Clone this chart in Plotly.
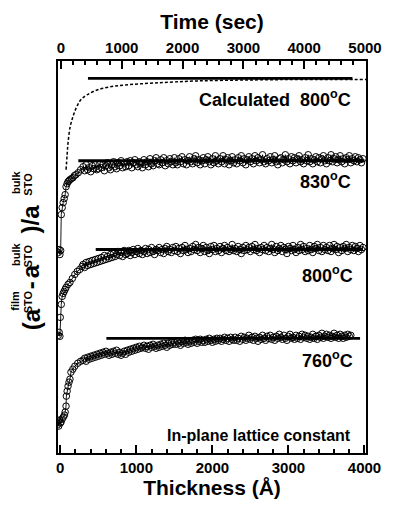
import plotly.graph_objects as go

# ---------------- data ----------------
# thickness (Angstrom) grid of the slowly varying part of the growth curves
t_plateau = [300, 320, 340, 360, 380, 400, 420, 440, 460, 480,
             500, 520, 540, 560, 580, 600, 620, 640, 660, 680,
             700, 720, 740, 760, 780, 800, 820, 840, 860, 880,
             900, 920, 940, 960, 980, 1000, 1020, 1040, 1060, 1080,
             1100, 1120, 1140, 1160, 1180, 1200, 1220, 1240, 1260, 1280,
             1300, 1320, 1340, 1360, 1380, 1400, 1420, 1440, 1460, 1480,
             1500, 1520, 1540, 1560, 1580, 1600, 1620, 1640, 1660, 1680,
             1700, 1720, 1740, 1760, 1780, 1800, 1820, 1840, 1860, 1880,
             1900, 1920, 1940, 1960, 1980, 2000, 2020, 2040, 2060, 2080,
             2100, 2120, 2140, 2160, 2180, 2200, 2220, 2240, 2260, 2280,
             2300, 2320, 2340, 2360, 2380, 2400, 2420, 2440, 2460, 2480,
             2500, 2520, 2540, 2560, 2580, 2600, 2620, 2640, 2660, 2680,
             2700, 2720, 2740, 2760, 2780, 2800, 2820, 2840, 2860, 2880,
             2900, 2920, 2940, 2960, 2980, 3000, 3020, 3040, 3060, 3080,
             3100, 3120, 3140, 3160, 3180, 3200, 3220, 3240, 3260, 3280,
             3300, 3320, 3340, 3360, 3380, 3400, 3420, 3440, 3460, 3480,
             3500, 3520, 3540, 3560, 3580, 3600, 3620, 3640, 3660, 3680,
             3700, 3720, 3740, 3760, 3780, 3800, 3820, 3840, 3860, 3880,
             3900, 3920, 3940, 3960, 3980]

# 830 C  (vertically offset, arbitrary units)
t830_early = [-25, -15, -5, 5, 13, 25, 38, 51, 64, 76, 90, 102, 115, 127, 146, 166, 185, 204, 236, 268]
v830_early = [20.1, 20.4, 19.9, 20.3, 23.9, 24.6, 25.1, 25.5, 25.9, 26.7, 27.0, 27.2, 27.3, 27.4,
              27.5, 27.6, 27.8, 27.9, 28.1, 28.4]
v830_plateau = [28.7, 28.3, 28.9, 28.4, 28.6, 28.2, 28.8, 28.5, 28.9, 28.4,
                28.5, 29.0, 28.6, 28.9, 28.3, 28.8, 29.1, 28.6, 28.4, 28.9,
                29.2, 28.7, 28.5, 29.1, 28.8, 29.3, 28.6, 29.0, 28.7, 29.2,
                28.8, 29.3, 28.6, 29.1, 29.4, 28.9, 28.7, 29.2, 29.0, 28.6,
                29.4, 28.9, 29.2, 28.7, 29.5, 29.0, 28.8, 29.3, 29.6, 29.0,
                28.9, 29.4, 29.1, 29.6, 28.8, 29.3, 29.0, 29.5, 29.2, 28.9,
                29.6, 29.1, 28.9, 29.5, 29.2, 29.7, 29.0, 29.4, 28.9, 29.3,
                29.7, 29.2, 29.0, 29.5, 29.8, 29.1, 29.4, 28.9, 29.3, 29.6,
                29.0, 29.4, 29.7, 29.2, 28.9, 29.5, 29.1, 29.8, 29.3, 29.0,
                29.5, 29.2, 29.8, 29.0, 29.4, 29.6, 28.9, 29.3, 29.7, 29.1,
                29.4, 29.0, 29.6, 29.3, 29.8, 29.1, 29.5, 28.9, 29.4, 29.7,
                29.2, 29.5, 29.0, 29.8, 29.3, 29.6, 29.1, 29.4, 29.9, 29.2,
                29.0, 29.5, 29.3, 29.7, 29.1, 29.4, 29.8, 29.2, 28.9, 29.5,
                29.6, 29.1, 29.4, 29.9, 29.2, 29.5, 29.0, 29.7, 29.3, 29.6,
                29.1, 29.5, 29.8, 29.2, 29.4, 29.0, 29.6, 29.3, 29.9, 29.2,
                29.5, 29.0, 29.4, 29.7, 29.2, 29.6, 29.1, 29.5, 29.8, 29.3,
                29.0, 29.6, 29.3, 29.9, 29.2, 29.5, 29.7, 29.1, 29.4, 29.8,
                29.2, 29.5, 29.0, 29.6, 29.4, 29.8, 29.1, 29.5, 29.3, 29.7,
                29.2, 29.6, 29.4, 29.1, 29.5]

# 800 C
t800_early = [-25, -15, -5, 0, 13, 25, 38, 51, 64, 76, 102, 127, 159, 191, 223, 255, 287]
v800_early = [11.8, 12.1, 11.7, 13.6, 14.9, 15.7, 16.0, 16.2, 16.4, 16.6, 16.9, 17.1, 17.5, 17.9,
              18.2, 18.4, 18.7]
v800_plateau = [18.9, 18.6, 19.1, 18.8, 19.2, 18.9, 19.3, 19.0, 19.4, 19.1,
                19.5, 19.2, 19.6, 19.3, 19.8, 19.4, 19.7, 19.5, 19.9, 19.6,
                20.0, 19.7, 19.9, 20.2, 19.8, 20.1, 19.7, 20.3, 19.9, 20.0,
                20.3, 19.8, 20.1, 20.4, 19.9, 20.2, 20.5, 20.0, 20.3, 19.9,
                20.2, 20.5, 20.0, 20.4, 20.1, 20.6, 20.2, 19.9, 20.4, 20.3,
                20.6, 20.1, 20.4, 20.0, 20.5, 20.7, 20.2, 20.4, 20.1, 20.6,
                20.3, 20.7, 20.2, 20.5, 20.0, 20.6, 20.3, 20.8, 20.4, 20.1,
                20.5, 20.2, 20.7, 20.4, 20.9, 20.3, 20.6, 20.1, 20.5, 20.8,
                20.2, 20.6, 20.3, 20.0, 20.7, 20.4, 20.8, 20.2, 20.5, 20.3,
                20.7, 20.1, 20.5, 20.8, 20.3, 20.6, 20.2, 20.4, 20.9, 20.3,
                20.5, 20.2, 20.7, 20.4, 20.0, 20.6, 20.3, 20.8, 20.4, 20.6,
                20.2, 20.7, 20.4, 20.9, 20.3, 20.5, 20.1, 20.6, 20.4, 20.8,
                20.3, 20.6, 20.2, 20.5, 20.9, 20.4, 20.1, 20.7, 20.3, 20.5,
                20.8, 20.2, 20.6, 20.4, 20.0, 20.7, 20.5, 20.3, 20.8, 20.4,
                20.1, 20.6, 20.3, 20.9, 20.4, 20.7, 20.2, 20.5, 20.3, 20.8,
                20.4, 20.1, 20.7, 20.5, 20.9, 20.3, 20.6, 20.2, 20.8, 20.4,
                20.6, 20.3, 20.8, 20.2, 20.5, 20.9, 20.4, 20.7, 20.1, 20.6,
                20.3, 20.7, 20.5, 20.9, 20.2, 20.6, 20.4, 20.8, 20.3, 20.7,
                20.5, 20.2, 20.8, 20.4, 20.6]

# 760 C
t760_early = [-40, -30, -20, -10, 0, 10, 25, 40, 55, 64, 76, 80, 90, 102, 115, 127, 140, 165, 191, 230, 268]
v760_early = [2.8, 3.2, 2.7, 3.3, 3.0, 3.1, 3.4, 3.6, 3.8, 4.1, 4.7, 5.7, 6.2, 6.7, 7.1, 7.4, 8.1,
              8.4, 8.7, 9.0, 9.2]
v760_plateau = [9.3, 9.5, 9.2, 9.6, 9.4, 9.7, 9.5, 9.8, 9.6, 9.9,
                9.7, 10.0, 9.8, 10.1, 9.9, 10.2, 10.0, 9.8, 10.1, 9.9,
                10.2, 10.0, 10.3, 9.9, 10.1, 9.8, 10.0, 10.2, 9.9, 10.3,
                10.1, 10.4, 10.2, 10.5, 10.3, 10.6, 10.4, 10.7, 10.5, 10.6,
                10.8, 10.5, 10.7, 10.4, 10.8, 10.6, 10.9, 10.7, 10.5, 10.8,
                10.6, 10.9, 10.7, 11.0, 10.8, 10.6, 11.0, 10.8, 11.1, 10.9,
                11.1, 10.9, 11.2, 11.0, 10.8, 11.2, 11.0, 11.3, 11.1, 10.9,
                11.2, 11.0, 11.3, 11.1, 11.4, 11.0, 11.2, 11.4, 11.1, 11.3,
                11.1, 11.4, 11.2, 11.5, 11.3, 11.1, 11.4, 11.2, 11.5, 11.3,
                11.5, 11.2, 11.4, 11.6, 11.3, 11.5, 11.2, 11.6, 11.4, 11.3,
                11.6, 11.3, 11.5, 11.2, 11.7, 11.4, 11.6, 11.3, 11.5, 11.8,
                11.4, 11.6, 11.3, 11.7, 11.5, 11.2, 11.6, 11.4, 11.8, 11.5,
                11.3, 11.7, 11.5, 11.8, 11.4, 11.6, 11.3, 11.7, 11.5, 11.9,
                11.6, 11.4, 11.8, 11.5, 11.3, 11.7, 11.9, 11.5, 11.6, 11.4,
                11.8, 11.5, 11.7, 11.4, 11.9, 11.6, 11.8, 11.5, 11.7, 11.4,
                11.6, 11.9, 11.5, 11.7, 11.4, 11.8, 11.6, 12.0, 11.5, 11.7,
                11.9, 11.6, 11.8, 11.5, 11.7, 12.0, 11.6, 11.8, 11.5, 11.9,
                11.7, 11.5, 11.8, 11.6, 11.9, 11.7, 11.8]

# calculated curve (800 C)
t_calc = [76, 90, 102, 130, 166, 210, 268, 350, 484, 650, 850, 1248, 1800, 2500, 3200, 4020]
v_calc = [28.4, 29.9, 31.1, 32.7, 33.7, 34.6, 35.4, 35.9, 36.4, 36.7, 36.9, 37.1, 37.3, 37.4, 37.45, 37.45]

# saturation (bulk-like) reference levels: [start thickness, end thickness, level]
sat_calc = [364, 3842, 37.55]
sat_830 = [237, 4000, 29.3]
sat_800 = [466, 3980, 20.4]
sat_760 = [606, 3942, 11.5]

bottom_ticks = [0, 1000, 2000, 3000, 4000]
top_ticks = [0, 1000, 2000, 3000, 4000, 5000]

# ---------------- figure ----------------
FONT = "Liberation Sans, Arial, sans-serif"
W, H = 394, 508
ML, MR, MT, MB = 58, 18, 61, 54
PW, PH = W - ML - MR, H - MT - MB


def px(x):
    return (x - ML) / PW


def py(y):
    return (H - MB - y) / PH


fig = go.Figure()

series = [
    (t830_early + t_plateau, v830_early + v830_plateau),
    (t800_early + t_plateau, v800_early + v800_plateau),
    (t760_early + t_plateau[:len(v760_plateau)], v760_early + v760_plateau),
]
for tx, vy in series:
    fig.add_trace(go.Scatter(
        x=tx, y=vy, mode="lines+markers",
        line=dict(color="black", width=0.9),
        marker=dict(symbol="circle-open", size=6.5, color="black",
                    line=dict(color="black", width=1.0)),
        showlegend=False, hoverinfo="skip"))

fig.add_trace(go.Scatter(
    x=t_calc, y=v_calc, mode="lines",
    line=dict(color="black", width=1.5, dash="3px,2px", shape="spline"),
    showlegend=False, hoverinfo="skip"))

for s in (sat_calc, sat_830, sat_800, sat_760):
    fig.add_trace(go.Scatter(
        x=[s[0], s[1]], y=[s[2], s[2]], mode="lines",
        line=dict(color="black", width=2.8),
        showlegend=False, hoverinfo="skip"))

# empty trace so the top (time) axis is drawn
fig.add_trace(go.Scatter(x=[None], y=[None], xaxis="x2", showlegend=False, hoverinfo="skip"))

tickfont = dict(family=FONT, size=15, color="black", weight="bold")
titlefont = dict(family=FONT, size=21, color="black", weight="bold")

fig.update_layout(
    width=W, height=H,
    margin=dict(l=ML, r=MR, t=MT, b=MB, pad=0),
    paper_bgcolor="white", plot_bgcolor="white",
    xaxis=dict(range=[-30, 4020], tickvals=bottom_ticks, ticktext=[str(v) for v in bottom_ticks],
               ticks="inside", ticklen=8, tickwidth=2, tickcolor="black",
               minor=dict(dtick=200, tick0=0, ticks="inside", ticklen=4, tickwidth=2, tickcolor="black"),
               showline=True, linewidth=2, linecolor="black", mirror=False,
               showgrid=False, zeroline=False, tickfont=tickfont,
               title=dict(text="Thickness (Å)", font=titlefont, standoff=5)),
    xaxis2=dict(range=[-48, 5016], overlaying="x", side="top", anchor="y",
                tickvals=top_ticks, ticktext=[str(v) for v in top_ticks],
                ticks="inside", ticklen=8, tickwidth=2, tickcolor="black",
                minor=dict(dtick=200, tick0=0, ticks="inside", ticklen=4, tickwidth=2, tickcolor="black"),
                showline=True, linewidth=2, linecolor="black",
                showgrid=False, zeroline=False, tickfont=tickfont,
                title=dict(text="Time (sec)", font=titlefont, standoff=4)),
    yaxis=dict(range=[0, 39.3], showticklabels=False, ticks="",
               showline=True, linewidth=2, linecolor="black", mirror=True,
               showgrid=False, zeroline=False),
)

lab = dict(family=FONT, size=18, color="black", weight="bold")
labels = [
    ("Calculated  800<sup>o</sup>C", 363, 99, lab),
    ("830<sup>o</sup>C", 363, 181, lab),
    ("800<sup>o</sup>C", 365, 275, lab),
    ("760<sup>o</sup>C", 365, 360, lab),
    ("In-plane lattice constant", 363, 436, dict(family=FONT, size=16, color="black", weight="bold")),
]
for text, x, y, f in labels:
    fig.add_annotation(text=text, x=px(x), y=py(y), xref="paper", yref="paper",
                       xanchor="right", yanchor="middle", showarrow=False, font=f)

# rotated y-axis title built from pieces (stacked super/subscripts)
big = dict(family=FONT, size=24, color="black", weight="bold")
small = dict(family=FONT, size=11, color="black", weight="bold")
ytitle = [
    ("(a", 30, 320, big),
    ("film", 14, 301, small),
    ("STO", 27, 302, small),
    ("-", 30, 286, big),
    ("a", 30, 272, big),
    ("bulk", 14, 255, small),
    ("STO", 27, 256, small),
    (")/a", 30, 219, big),
    ("bulk", 14, 183, small),
    ("STO", 27, 184, small),
]
for text, x, y, f in ytitle:
    fig.add_annotation(text=text, x=px(x), y=py(y), xref="paper", yref="paper",
                       xanchor="center", yanchor="middle", textangle=-90,
                       showarrow=False, font=f)

fig.write_html("out.html")
